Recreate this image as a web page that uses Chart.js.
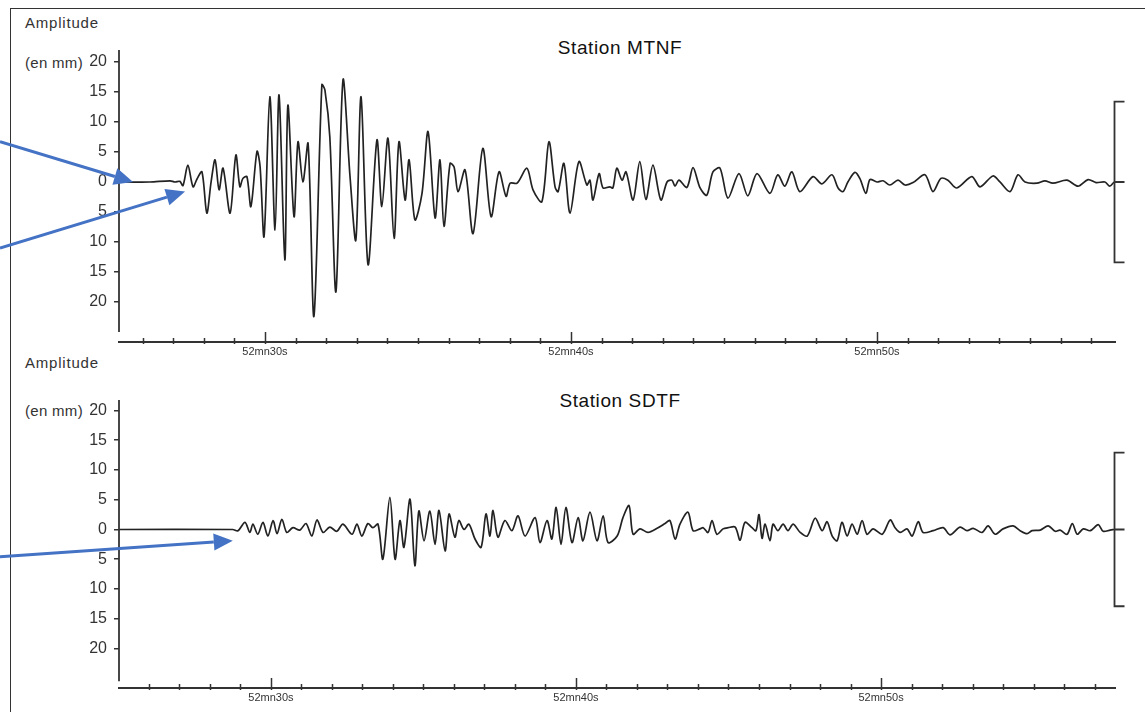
<!DOCTYPE html>
<html>
<head>
<meta charset="utf-8">
<script src="https://cdn.jsdelivr.net/npm/chart.js@4.4.1/dist/chart.umd.min.js"></script>
<style>
  html, body { margin: 0; padding: 0; background: #fff; }
  body { width: 1145px; height: 712px; position: relative; overflow: hidden; font-family: "Liberation Sans", Arial, sans-serif; }
  .frame { position: absolute; left: 10px; top: 8px; width: 1200px; height: 760px; border: 1.5px solid #333; box-sizing: border-box; }
  .panel { position: absolute; left: 0; }
  .txt { position: absolute; color: #333; font-size: 15px; line-height: 15px; white-space: nowrap; }
  .amp { letter-spacing: 0.8px; }
  .unit { letter-spacing: 0.3px; }
  .title { position: absolute; color: #111; font-size: 19px; line-height: 19px; letter-spacing: 0.6px; white-space: nowrap; transform: translateX(-50%); }
</style>
</head>
<body>
<div class="frame"></div>

<div class="txt amp" style="left:25px; top:15px;">Amplitude</div>
<div class="txt unit" style="left:25px; top:55px;">(en mm)</div>
<div class="title" style="left:620px; top:38px;">Station MTNF</div>

<div class="txt amp" style="left:25px; top:355px;">Amplitude</div>
<div class="txt unit" style="left:25px; top:403px;">(en mm)</div>
<div class="title" style="left:620px; top:391px;">Station SDTF</div>

<canvas id="mtnf" class="panel" width="1145" height="360" style="top:0;"></canvas>
<canvas id="sdtf" class="panel" width="1145" height="356" style="top:350px;"></canvas>

<script>
// time in seconds after 52 mn, amplitude in mm
const mtnfTimes = [
  25.42, 26.24, 26.90, 27.06, 27.22, 27.32, 27.48, 27.65, 27.78, 27.94,
  28.10, 28.24, 28.37, 28.50, 28.63, 28.86, 29.05, 29.18, 29.28, 29.41,
  29.54, 29.74, 29.84, 29.97, 30.16, 30.33, 30.46, 30.65, 30.75, 30.95,
  31.08, 31.24, 31.41, 31.60, 31.86, 31.96, 32.12, 32.32, 32.55, 32.78,
  32.97, 33.14, 33.37, 33.66, 33.82, 34.02, 34.22, 34.38, 34.58, 34.71,
  34.90, 35.13, 35.33, 35.56, 35.72, 35.85, 36.05, 36.18, 36.31, 36.54,
  36.80, 37.12, 37.39, 37.65, 37.88, 38.01, 38.24, 38.56, 38.76, 39.05,
  39.28, 39.48, 39.58, 39.77, 39.97, 40.26, 40.52, 40.62, 40.72, 40.92,
  41.05, 41.27, 41.37, 41.50, 41.67, 41.80, 42.03, 42.25, 42.45, 42.68,
  42.94, 43.14, 43.30, 43.40, 43.53, 43.79, 43.99, 44.22, 44.44, 44.64,
  44.87, 45.13, 45.49, 45.78, 46.08, 46.50, 46.76, 46.99, 47.22, 47.48,
  47.91, 48.20, 48.53, 48.73, 48.89, 49.05, 49.28, 49.44, 49.64, 49.77,
  50.00, 50.20, 50.42, 50.69, 50.92, 51.18, 51.57, 51.83, 52.09, 52.32,
  52.61, 53.10, 53.37, 53.79, 54.02, 54.35, 54.61, 54.84, 55.23, 55.49,
  55.75, 56.21, 56.57, 56.90, 57.16, 57.45, 57.61, 57.75
];
const mtnfAmps = [
  0, 0, 0.2, 0, 0.1, -0.6, 2.8, -0.8, 0.5, 1.7,
  -5.2, 0, 3.7, -1.3, 2.3, -5.2, 4.5, -0.8, 0.6, 0.9,
  -4.1, 5.1, 2.6, -9.1, 14.2, -8, 14.5, -13, 12.8, -5.8,
  6.7, 0, 6.4, -22.4, 16.2, 15.3, 7.5, -18.3, 17, 0.9,
  -9.7, 14.2, -13.8, 7, -4.1, 7.3, -9.4, 6.7, -3, 3.7,
  -6.3, -2, 8.4, -6, 3.7, -7.4, 3.1, 2.5, -1.6, 2,
  -8.6, 5.6, -5.8, 1.7, -2.4, -0.2, -0.2, 2.3, -1.3, -3.3,
  6.7, -0.8, -1.6, 3.1, -5.2, 3.4, -0.5, 0.3, -3, 1.4,
  -1, -0.8, -1, 2.3, 0.3, 1.7, -3, 3.4, -2.9, 2.8,
  -3, 0, 0.3, -0.7, 0.3, -0.9, 2.4, -1, -2.2, 1.7,
  2.3, -2.7, 1.4, -2.3, 1.4, -1.9, 1.2, -0.7, 1.7, -1.6,
  0.9, -0.3, 1.2, -1, -1.6, 0, 1.6, 0.6, -1.9, 0.4,
  0, 0.2, -0.5, 0.3, -0.5, -0.1, 1.2, -1.6, 0.6, 0.3,
  -1, 0.9, -0.8, 1, 0, -1.6, 1.2, 0, -0.2, 0.2,
  -0.2, 0.3, -0.7, 0.4, -0.1, 0, -0.7, 0
];

const sdtfTimes = [
  25.02, 28.75, 28.92, 29.15, 29.31, 29.41, 29.57, 29.74, 29.90, 30.07,
  30.20, 30.36, 30.52, 30.72, 30.95, 31.15, 31.34, 31.51, 31.71, 31.93,
  32.16, 32.36, 32.66, 32.82, 32.98, 33.18, 33.34, 33.51, 33.67, 33.90,
  34.07, 34.23, 34.36, 34.56, 34.72, 34.85, 35.02, 35.21, 35.38, 35.51,
  35.71, 35.84, 36.03, 36.16, 36.33, 36.49, 36.69, 36.89, 37.05, 37.18,
  37.28, 37.44, 37.67, 37.90, 38.10, 38.33, 38.66, 38.82, 39.05, 39.21,
  39.35, 39.51, 39.67, 39.87, 40.07, 40.23, 40.46, 40.69, 40.89, 41.05,
  41.35, 41.54, 41.74, 41.87, 42.10, 42.36, 42.66, 42.92, 43.08, 43.25,
  43.41, 43.67, 43.84, 44.07, 44.17, 44.33, 44.46, 44.62, 44.82, 44.99,
  45.22, 45.38, 45.54, 45.77, 45.90, 46.00, 46.10, 46.20, 46.36, 46.46,
  46.62, 46.79, 46.95, 47.12, 47.35, 47.58, 47.84, 48.07, 48.23, 48.40,
  48.56, 48.72, 48.89, 49.05, 49.22, 49.38, 49.54, 49.74, 50.04, 50.30,
  50.46, 50.63, 50.85, 51.02, 51.22, 51.38, 51.71, 52.04, 52.26, 52.59,
  52.82, 53.02, 53.31, 53.51, 53.74, 54.00, 54.33, 54.56, 54.79, 54.95,
  55.22, 55.48, 55.71, 55.87, 56.10, 56.27, 56.43, 56.63, 56.86, 57.12,
  57.28, 57.51, 57.64
];
const sdtfAmps = [
  0, 0, -0.2, 1.2, -0.5, 0.9, -0.8, 1.2, -1.1, 1.5,
  -0.7, 1.7, -0.5, 0.3, -0.1, 1, -1.1, 1.6, -0.5, 0.4,
  -0.3, 0.9, -0.8, 0.9, -1.1, 1, 0.3, 0.9, -5, 5.4,
  -5, 1.5, -3, 5.1, -6.1, 3.1, -1.9, 3.1, -2.5, 3.2,
  -3.6, 2.6, -1.3, 1.5, 0, 0.9, -1.6, -3, 2.6, -1.1,
  3.2, -1.3, 1.5, -0.2, 2.3, -1.1, 2, -2.2, 1.5, -1.6,
  3.7, -2.5, 3.7, -2.2, 2, -1.9, 2.9, -1.9, 2.3, -2.2,
  -1.1, 2, 4, -0.8, 0.1, -0.5, 0.2, 1, 1.5, -1.6,
  0.9, 2.9, -0.2, 0.1, 0.3, -0.5, 1.5, -0.8, 0.1, 0.3,
  0.4, -1.8, 1.2, 0.3, -0.2, 2.5, -1.5, 0.9, -1.9, 0.9,
  -0.2, 0.9, -0.2, 0.9, -0.5, -1.1, 1.9, -0.2, 1.3, -1.1,
  -1.9, 1.2, -1.1, 0.9, -0.8, 1.5, -0.8, 0.1, -0.8, 1.6,
  0.3, -0.5, 0.1, -1.1, 1.3, -0.5, -0.2, 0.3, -0.9, 0.4,
  -0.2, 0.2, -0.5, 0.6, -0.8, 0.1, 0.6, -0.2, -0.7, -0.2,
  -0.1, 0.6, -0.3, -0.1, -0.8, 1, -0.8, 0.1, -0.2, 0.8,
  -0.3, -0.1, 0
];

const amplitudeTicks = [20, 15, 10, 5, 0, -5, -10, -15, -20];
const secondTicks = [26, 27, 28, 29, 30, 31, 32, 33, 34, 35, 36, 37, 38, 39, 40, 41,
                     42, 43, 44, 45, 46, 47, 48, 49, 50, 51, 52, 53, 54, 55, 56, 57];
const minuteLabel = '52mn';

// arrows pointing at the first arrivals: tip time, tip amplitude, tail amplitude (tail at left edge)
const mtnfArrowTipTimes = [25.69, 27.39];
const mtnfArrowTipAmps = [0, -1.6];
const mtnfArrowTailAmps = [6.7, -11];
const sdtfArrowTipTimes = [28.75];
const sdtfArrowTipAmps = [-1.9];
const sdtfArrowTailAmps = [-4.6];

Chart.defaults.font.family = '"Liberation Sans", Arial, sans-serif';

function drawArrow(ctx, x0, y0, x1, y1) {
    const ang = Math.atan2(y1 - y0, x1 - x0);
    const hl = 19, hw = 8.5;
    const bx = x1 - hl * Math.cos(ang);
    const by = y1 - hl * Math.sin(ang);
    ctx.strokeStyle = '#4472c4';
    ctx.fillStyle = '#4472c4';
    ctx.lineWidth = 3;
    ctx.beginPath();
    ctx.moveTo(x0, y0);
    ctx.lineTo(bx, by);
    ctx.stroke();
    ctx.beginPath();
    ctx.moveTo(x1, y1);
    ctx.lineTo(bx + hw * Math.sin(ang), by - hw * Math.cos(ang));
    ctx.lineTo(bx - hw * Math.sin(ang), by + hw * Math.cos(ang));
    ctx.closePath();
    ctx.fill();
}

// axis line, second ticks, scale bracket and arrows
const seismoDecor = {
    id: 'seismoDecor',
    afterDraw(chart, args, opts) {
        const { ctx, chartArea: a, scales: { x, y } } = chart;
        ctx.save();
        ctx.strokeStyle = '#333';
        ctx.lineWidth = 1.8;

        ctx.beginPath();
        ctx.moveTo(a.left, y.getPixelForValue(opts.axisTop));
        ctx.lineTo(a.left, y.getPixelForValue(opts.axisBottom));
        ctx.stroke();

        ctx.lineWidth = 1.5;
        x.ticks.forEach((t) => {
            const px = Math.round(x.getPixelForValue(t.value)) + 0.5;
            const major = t.value % 10 === 0;
            ctx.beginPath();
            ctx.moveTo(px, a.bottom - (major ? 10 : 4));
            ctx.lineTo(px, a.bottom + 2);
            ctx.stroke();
        });

        const bx = Math.round(a.right) - 0.5;
        const yt = y.getPixelForValue(opts.bracket);
        const yb = y.getPixelForValue(-opts.bracket);
        const y0 = y.getPixelForValue(0);
        ctx.lineWidth = 1.8;
        ctx.beginPath();
        ctx.moveTo(bx + 10, yt);
        ctx.lineTo(bx, yt);
        ctx.lineTo(bx, yb);
        ctx.lineTo(bx + 10, yb);
        ctx.moveTo(bx, y0);
        ctx.lineTo(bx + 10, y0);
        ctx.stroke();

        opts.tipTimes.forEach((t, i) => {
            drawArrow(ctx, 0, y.getPixelForValue(opts.tailAmps[i]),
                x.getPixelForValue(t), y.getPixelForValue(opts.tipAmps[i]));
        });
        ctx.restore();
    }
};

function makeSeismogram(canvasId, times, amps, cfg) {
    const points = times.map((t, i) => ({ x: t, y: amps[i] }));
    return new Chart(document.getElementById(canvasId), {
        type: 'line',
        data: {
            datasets: [{
                data: points,
                borderColor: '#222',
                borderWidth: 1.7,
                pointRadius: 0,
                tension: 0.3,
                fill: false,
            }],
        },
        options: {
            responsive: false,
            animation: false,
            devicePixelRatio: 1,
            layout: { padding: { left: 0, right: 30, top: 50, bottom: 0 } },
            plugins: {
                legend: { display: false },
                tooltip: { enabled: false },
                seismoDecor: {
                    axisTop: cfg.yMax,
                    axisBottom: cfg.axisBottom,
                    bracket: cfg.bracket,
                    tipTimes: cfg.tipTimes,
                    tipAmps: cfg.tipAmps,
                    tailAmps: cfg.tailAmps,
                },
            },
            scales: {
                x: {
                    type: 'linear',
                    min: cfg.xMin,
                    max: cfg.xMax,
                    afterBuildTicks: (s) => { s.ticks = secondTicks.map((v) => ({ value: v })); },
                    afterFit: (s) => { s.height = 18; },
                    grid: { display: false, drawTicks: false },
                    border: { display: true, color: '#333', width: 2 },
                    ticks: {
                        autoSkip: false,
                        maxRotation: 0,
                        padding: 3,
                        color: '#333',
                        font: { size: 11 },
                        callback: (v) => (v % 10 === 0 ? minuteLabel + v + 's' : ''),
                    },
                },
                y: {
                    type: 'linear',
                    min: cfg.yMin,
                    max: cfg.yMax,
                    afterBuildTicks: (s) => { s.ticks = amplitudeTicks.map((v) => ({ value: v })); },
                    afterFit: (s) => { s.width = 119; },
                    grid: { drawOnChartArea: false, drawTicks: true, tickLength: 5, color: '#333', lineWidth: 1.5 },
                    border: { display: false },
                    ticks: {
                        padding: 7,
                        color: '#333',
                        font: { size: 16 },
                        callback: (v) => String(Math.abs(v)),
                    },
                },
            },
        },
        plugins: [seismoDecor],
    });
}

makeSeismogram('mtnf', mtnfTimes, mtnfAmps, {
    xMin: 25.23, xMax: 57.78,
    yMin: -26.67, yMax: 22, axisBottom: -25,
    bracket: 13.4,
    tipTimes: mtnfArrowTipTimes, tipAmps: mtnfArrowTipAmps, tailAmps: mtnfArrowTailAmps,
});

makeSeismogram('sdtf', sdtfTimes, sdtfAmps, {
    xMin: 25.02, xMax: 57.67,
    yMin: -26.64, yMax: 21.76, axisBottom: -25.5,
    bracket: 12.9,
    tipTimes: sdtfArrowTipTimes, tipAmps: sdtfArrowTipAmps, tailAmps: sdtfArrowTailAmps,
});
</script>
</body>
</html>
